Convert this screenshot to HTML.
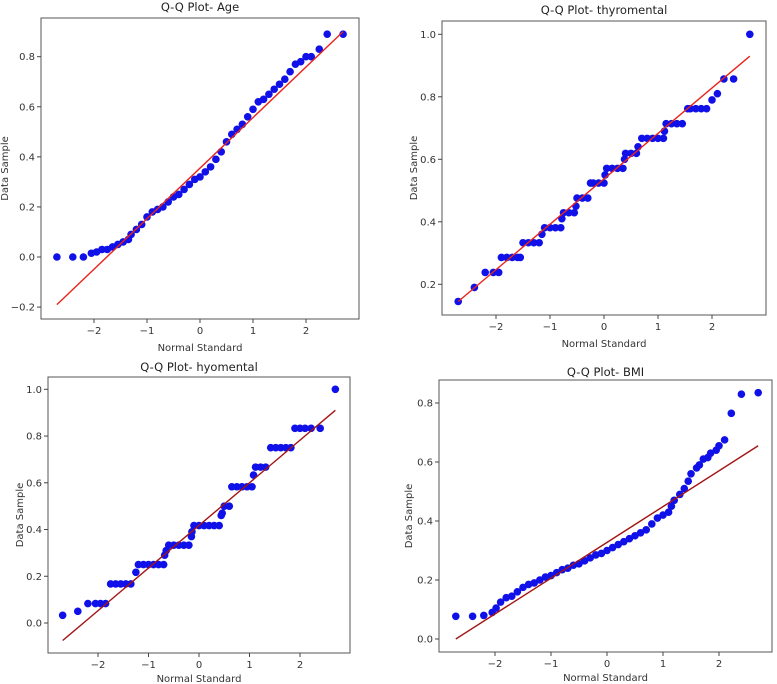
<!DOCTYPE html>
<html><head><meta charset="utf-8"><style>
body{margin:0;background:#fff;}
svg{display:block;font-family:"DejaVu Sans","Liberation Sans",sans-serif;}
</style></head><body>
<svg id="fig" width="777" height="684" viewBox="0 0 777 684" xmlns="http://www.w3.org/2000/svg"></svg>
<script>
const agePoints=[[-2.7,0],[-2.4,0],[-2.2,0],[-2.05,0.015],[-1.95,0.02],[-1.85,0.03],[-1.75,0.03],[-1.65,0.04],[-1.55,0.05],[-1.45,0.06],[-1.35,0.07],[-1.3,0.09],[-1.2,0.11],[-1.1,0.13],[-1.0,0.16],[-0.9,0.18],[-0.8,0.19],[-0.7,0.2],[-0.6,0.22],[-0.5,0.24],[-0.4,0.25],[-0.3,0.27],[-0.2,0.29],[-0.1,0.31],[0,0.32],[0.1,0.34],[0.2,0.36],[0.3,0.39],[0.4,0.42],[0.5,0.46],[0.6,0.49],[0.7,0.51],[0.8,0.53],[0.9,0.56],[1.0,0.59],[1.1,0.62],[1.2,0.63],[1.3,0.65],[1.4,0.67],[1.5,0.69],[1.6,0.71],[1.7,0.74],[1.8,0.77],[1.9,0.78],[2.0,0.8],[2.1,0.8],[2.25,0.83],[2.4,0.89],[2.7,0.89]];
const thyroPoints=[[-2.7,0.145],[-2.4,0.19],[-2.2,0.238],[-2.05,0.238],[-1.95,0.238],[-1.9,0.286],[-1.8,0.286],[-1.7,0.286],[-1.6,0.286],[-1.55,0.286],[-1.5,0.333],[-1.4,0.333],[-1.3,0.333],[-1.2,0.333],[-1.15,0.36],[-1.1,0.381],[-1.0,0.381],[-0.9,0.381],[-0.8,0.381],[-0.78,0.41],[-0.75,0.429],[-0.65,0.429],[-0.55,0.429],[-0.52,0.45],[-0.5,0.476],[-0.4,0.476],[-0.3,0.476],[-0.25,0.524],[-0.2,0.524],[-0.1,0.524],[0,0.524],[0.02,0.55],[0.05,0.571],[0.15,0.571],[0.25,0.571],[0.35,0.571],[0.38,0.6],[0.4,0.619],[0.5,0.619],[0.6,0.619],[0.63,0.64],[0.7,0.667],[0.8,0.667],[0.9,0.667],[1.0,0.667],[1.1,0.667],[1.12,0.69],[1.15,0.714],[1.25,0.714],[1.35,0.714],[1.45,0.714],[1.55,0.762],[1.6,0.762],[1.7,0.762],[1.8,0.762],[1.9,0.762],[2.0,0.79],[2.1,0.81],[2.22,0.857],[2.4,0.857],[2.7,1.0]];
const hyoPoints=[[-2.7,0.033],[-2.4,0.05],[-2.2,0.083],[-2.05,0.083],[-1.95,0.083],[-1.85,0.083],[-1.75,0.167],[-1.65,0.167],[-1.55,0.167],[-1.45,0.167],[-1.35,0.167],[-1.25,0.217],[-1.2,0.25],[-1.1,0.25],[-1.0,0.25],[-0.9,0.25],[-0.8,0.25],[-0.7,0.25],[-0.68,0.29],[-0.65,0.31],[-0.6,0.333],[-0.5,0.333],[-0.4,0.333],[-0.3,0.333],[-0.2,0.333],[-0.15,0.37],[-0.14,0.39],[-0.1,0.417],[0,0.417],[0.1,0.417],[0.2,0.417],[0.3,0.417],[0.4,0.417],[0.44,0.46],[0.46,0.47],[0.5,0.5],[0.6,0.5],[0.65,0.583],[0.75,0.583],[0.85,0.583],[0.95,0.583],[1.05,0.583],[1.08,0.633],[1.12,0.667],[1.22,0.667],[1.32,0.667],[1.42,0.75],[1.52,0.75],[1.62,0.75],[1.72,0.75],[1.82,0.75],[1.9,0.833],[2.0,0.833],[2.1,0.833],[2.22,0.833],[2.4,0.833],[2.7,1.0]];
const bmiPoints=[[-2.7,0.077],[-2.4,0.077],[-2.2,0.08],[-2.05,0.09],[-1.98,0.105],[-1.9,0.125],[-1.8,0.14],[-1.7,0.145],[-1.6,0.16],[-1.5,0.175],[-1.4,0.185],[-1.3,0.19],[-1.2,0.2],[-1.1,0.21],[-1.0,0.215],[-0.9,0.225],[-0.8,0.235],[-0.7,0.24],[-0.6,0.25],[-0.5,0.255],[-0.4,0.265],[-0.3,0.275],[-0.2,0.285],[-0.1,0.29],[0,0.3],[0.1,0.31],[0.2,0.32],[0.3,0.33],[0.4,0.34],[0.5,0.35],[0.6,0.36],[0.7,0.37],[0.8,0.39],[0.9,0.41],[1.0,0.42],[1.1,0.43],[1.15,0.45],[1.2,0.47],[1.3,0.49],[1.38,0.51],[1.45,0.535],[1.5,0.56],[1.6,0.58],[1.65,0.59],[1.72,0.61],[1.8,0.615],[1.85,0.63],[1.95,0.64],[2.0,0.655],[2.1,0.675],[2.22,0.765],[2.4,0.83],[2.7,0.835]];
const ageLine=[-2.7,-0.19,2.7,0.9];
const thyroLine=[-2.7,0.145,2.7,0.93];
const hyoLine=[-2.7,-0.075,2.7,0.91];
const bmiLine=[-2.7,0.0,2.7,0.655];
const xTicks=[-2,-1,0,1,2];
const ageYTicks=[-0.2,0.0,0.2,0.4,0.6,0.8];
const thyroYTicks=[0.2,0.4,0.6,0.8,1.0];
const hyoYTicks=[0.0,0.2,0.4,0.6,0.8,1.0];
const bmiYTicks=[0.0,0.2,0.4,0.6,0.8];

const NS='http://www.w3.org/2000/svg';
const svg=document.getElementById('fig');
function mk(tag,attrs,parent){const e=document.createElementNS(NS,tag);for(const k in attrs)e.setAttribute(k,attrs[k]);(parent||svg).appendChild(e);return e;}
function fmtX(v){return v<0?'\u2212'+Math.abs(v):String(v);}
function fmtY(v){return (v<0?'\u2212':'')+Math.abs(v).toFixed(1);}

const panels=[
 {key:'age',title:'Q-Q Plot- Age',pts:agePoints,line:ageLine,yt:ageYTicks,box:[41,18,359,319],xa:[0,200,53],ya:[0,257,(257-56.7)/0.8],titleY:11,xlY:351,ylX:8,lc:'#e8241c',showXl:true},
 {key:'thyromental',title:'Q-Q Plot- thyromental',pts:thyroPoints,line:thyroLine,yt:thyroYTicks,box:[442,21,766,315],xa:[0,604,54],ya:[0.2,284.3,250/0.8],titleY:14,xlY:347,ylX:417,lc:'#e8241c',showXl:true},
 {key:'hyomental',title:'Q-Q Plot- hyomental',pts:hyoPoints,line:hyoLine,yt:hyoYTicks,box:[48,377,350,653],xa:[0,199,50.5],ya:[0,623,233.7],titleY:371,xlY:682,ylX:23,lc:'#a31515',showXl:true},
 {key:'bmi',title:'Q-Q Plot- BMI',pts:bmiPoints,line:bmiLine,yt:bmiYTicks,box:[439,380,772,652],xa:[0,607,56],ya:[0,639,236/0.8],titleY:376,xlY:681,ylX:412,lc:'#a31515',showXl:true}
];

panels.forEach(p=>{
  const g=mk('g',{});
  
  
  const sx=v=>p.xa[1]+(v-p.xa[0])*p.xa[2];
  const sy=v=>p.ya[1]-(v-p.ya[0])*p.ya[2];
  const [x0,y0,x1,y1]=p.box;
  const t=mk('text',{x:(x0+x1)/2,y:p.titleY,'text-anchor':'middle','font-size':'11.5',fill:'#222'},g);
  t.textContent=p.title;
  
  
  const fr=mk('rect',{x:x0,y:y0,width:x1-x0,height:y1-y0,fill:'#fff',stroke:'#555','stroke-width':1},g);
  
  
  xTicks.forEach(v=>{
    const X=sx(v);
    mk('line',{x1:X,y1:y1,x2:X,y2:y1+4,stroke:'#444'},g);
    const tl=mk('text',{x:X,y:y1+15,'text-anchor':'middle','font-size':'10',fill:'#333'},g);
    tl.textContent=fmtX(v);
    
    
  });
  p.yt.forEach(v=>{
    const Y=sy(v);
    mk('line',{x1:x0-4,y1:Y,x2:x0,y2:Y,stroke:'#444'},g);
    const tl=mk('text',{x:x0-6,y:Y+3.5,'text-anchor':'end','font-size':'10',fill:'#333'},g);
    tl.textContent=fmtY(v);
    
    
  });
  const xl=mk('text',{x:(x0+x1)/2,y:p.xlY,'text-anchor':'middle','font-size':'10',fill:'#333'},g);
  xl.textContent='Normal Standard';
  
  
  const cy=(y0+y1)/2;
  const yl=mk('text',{x:p.ylX,y:cy,'text-anchor':'middle','font-size':'10',fill:'#333',transform:`rotate(-90 ${p.ylX} ${cy})`},g);
  yl.textContent='Data Sample';
  
  
  p.pts.forEach(d=>{
    const c=mk('circle',{cx:sx(d[0]),cy:sy(d[1]),r:3.8,fill:'#1010e8'},g);
    
    
  });
  const ln=mk('line',{x1:sx(p.line[0]),y1:sy(p.line[1]),x2:sx(p.line[2]),y2:sy(p.line[3]),stroke:p.lc,'stroke-width':1.4},g);
  
  
});
</script>
</body></html>
